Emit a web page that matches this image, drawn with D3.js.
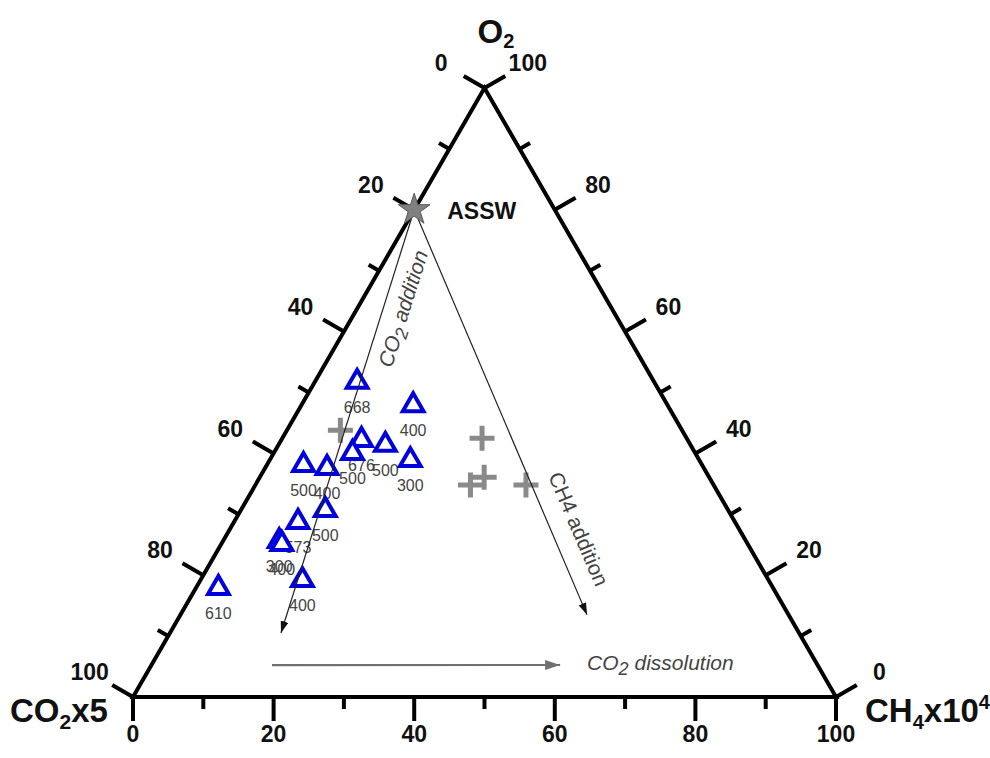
<!DOCTYPE html>
<html lang="en">
<head>
  <meta charset="UTF-8">
  <title>Ternary diagram CO2 / O2 / CH4</title>
  <script src="https://d3js.org/d3.v7.min.js"></script>
  <style>
    body {
      margin: 0;
      background: #fff;
      font-family: "Liberation Sans", Arial, sans-serif;
    }

    svg {
      display: block;
    }

    .edge {
      fill: none;
      stroke: #000;
      stroke-width: 4;
    }

    .tick {
      stroke: #000;
      stroke-width: 4;
    }

    .tick-label {
      font-size: 23px;
      font-weight: bold;
      fill: #111;
    }

    .corner-label {
      font-size: 33px;
      font-weight: bold;
      fill: #111;
    }

    .sample {
      fill: #fff;
      stroke: #0000dd;
      stroke-width: 4;
    }

    .sample-label {
      font-size: 16px;
      fill: #444;
    }

    .cross {
      fill: none;
      stroke: #8a8a8a;
      stroke-width: 5;
    }

    .process-line {
      stroke: #222;
      stroke-width: 1.2;
    }

    .process-text {
      font-size: 21px;
      fill: #444;
    }
  </style>
</head>
<body>
  <svg id="chart"></svg>
  <script>
    // axis ticks (percent along each side)
    const axisTicks = d3.range(0, 101, 10);
    const tickLabels = [0, 20, 40, 60, 80, 100];

    // blue triangles, [CO2x5, O2, CH4x10^4] in %, labelled with depth
    const sampleDepths = ["668", "400", "676", "500", "500", "300", "500", "400", "500", "573", "300", "400", "400", "610"];
    const sampleCO2 = [42.2, 36.2, 46.4, 48.8, 43.4, 41.1, 56.7, 53.6, 57.3, 62.1, 66.4, 66.2, 66.3, 78.9];
    const sampleO2 = [51.7, 47.9, 42.2, 40.1, 41.4, 38.9, 38.1, 37.6, 30.7, 28.7, 25.6, 25.1, 19.2, 17.9];
    const sampleCH4 = [6.0, 15.9, 11.4, 11.2, 15.2, 20.0, 5.2, 8.8, 12.0, 9.1, 8.0, 8.6, 14.5, 3.2];

    // grey crosses
    const crossCO2 = [48.6, 29.1, 34.6, 32.0, 26.7];
    const crossO2 = [43.8, 42.5, 34.8, 36.1, 34.8];
    const crossCH4 = [7.6, 28.4, 30.6, 31.9, 38.5];

    // ASSW end member
    const asswPoint = [20, 80, 0];

    // process arrows, endpoints as [CO2, O2, CH4]
    const arrowFrom = [[20, 80, 0], [20, 80, 0], [77.6, 5.25, 17.15]];
    const arrowTo = [[73.7, 10.5, 15.8], [28.7, 13.5, 57.9], [36.6, 5.25, 58.1]];

    const width = 990;
    const height = 758;

    const svg = d3.select("#chart")
      .attr("width", width)
      .attr("height", height);

    // CH4 + O2/2 runs along x, O2 runs up
    const xScale = d3.scaleLinear().domain([0, 100]).range([133, 836]);
    const yScale = d3.scaleLinear().domain([0, 100]).range([697, 88]);

    function project(co2, o2, ch4) {
      const s = co2 + o2 + ch4;
      const b = o2 * 100 / s;
      const c = ch4 * 100 / s;
      return [xScale(c + b / 2), yScale(b)];
    }

    const cos30 = Math.sqrt(3) / 2;

    // markers
    const defs = svg.append("defs");
    defs.append("marker")
      .attr("id", "head-black")
      .attr("viewBox", "0 0 12 8")
      .attr("refX", 12).attr("refY", 4)
      .attr("markerWidth", 12).attr("markerHeight", 8)
      .attr("markerUnits", "userSpaceOnUse")
      .attr("orient", "auto")
      .append("path").attr("d", "M0,0L12,4L0,8Z").attr("fill", "#111");
    defs.append("marker")
      .attr("id", "head-grey")
      .attr("viewBox", "0 0 15 10")
      .attr("refX", 15).attr("refY", 5)
      .attr("markerWidth", 15).attr("markerHeight", 10)
      .attr("markerUnits", "userSpaceOnUse")
      .attr("orient", "auto")
      .append("path").attr("d", "M0,0L15,5L0,10Z").attr("fill", "#707070");

    // triangle frame
    const corners = [project(100, 0, 0), project(0, 100, 0), project(0, 0, 100)];
    svg.append("path")
      .attr("class", "edge")
      .attr("d", d3.line()(corners) + "Z");

    // three sides: point on side for a value, and outward normal
    const sides = [
      { pos: v => project(100 - v, 0, v), normal: [0, 1], off: 37 },               // CH4 (bottom)
      { pos: v => project(v, 100 - v, 0), normal: [-cos30, -0.5], off: 50 },       // CO2 (left)
      { pos: v => project(0, v, 100 - v), normal: [cos30, -0.5], off: 50 }         // O2 (right)
    ];

    sides.forEach(side => {
      const g = svg.append("g");
      g.selectAll("line")
        .data(axisTicks)
        .join("line")
        .attr("class", "tick")
        .each(function (v) {
          const [x, y] = side.pos(v);
          const len = v % 20 === 0 ? 24 : 12;
          d3.select(this)
            .attr("x1", x).attr("y1", y)
            .attr("x2", x + side.normal[0] * len)
            .attr("y2", y + side.normal[1] * len);
        });
      g.selectAll("text")
        .data(tickLabels)
        .join("text")
        .attr("class", "tick-label")
        .attr("text-anchor", "middle")
        .attr("dy", "0.36em")
        .attr("x", v => side.pos(v)[0] + side.normal[0] * side.off)
        .attr("y", v => side.pos(v)[1] + side.normal[1] * side.off)
        .text(v => v);
    });

    // corner titles
    const o2Label = svg.append("text").attr("class", "corner-label")
      .attr("x", corners[1][0] - 7).attr("y", corners[1][1] - 45);
    o2Label.append("tspan").text("O");
    o2Label.append("tspan").attr("font-size", "20px").attr("dy", 5).text("2");

    const co2Label = svg.append("text").attr("class", "corner-label")
      .attr("font-size", "34px")
      .attr("x", corners[0][0] - 123).attr("y", corners[0][1] + 25);
    co2Label.append("tspan").text("CO");
    co2Label.append("tspan").attr("font-size", "21px").attr("dy", 7).text("2");
    co2Label.append("tspan").attr("dy", -7).text("x5");

    const ch4Label = svg.append("text").attr("class", "corner-label")
      .attr("x", corners[2][0] + 29).attr("y", corners[2][1] + 25);
    ch4Label.append("tspan").text("CH");
    ch4Label.append("tspan").attr("font-size", "20px").attr("dy", 7).text("4");
    ch4Label.append("tspan").attr("dy", -7).text("x10");
    ch4Label.append("tspan").attr("font-size", "20px").attr("dy", -13).text("4");

    // sample labels first (triangles overlap them)
    const samples = sampleDepths.map((d, i) => ({
      depth: d,
      p: project(sampleCO2[i], sampleO2[i], sampleCH4[i])
    }));

    svg.append("g")
      .selectAll("text")
      .data(samples)
      .join("text")
      .attr("class", "sample-label")
      .attr("text-anchor", "middle")
      .attr("x", d => d.p[0])
      .attr("y", d => d.p[1] + 31)
      .text(d => d.depth);

    // grey crosses
    const crosses = crossCO2.map((c, i) => project(c, crossO2[i], crossCH4[i]));
    const r = 12.5;
    svg.append("g")
      .selectAll("path")
      .data(crosses)
      .join("path")
      .attr("class", "cross")
      .attr("d", ([x, y]) => `M${x - r},${y}H${x + r}M${x},${y - r}V${y + r}`);

    // blue triangles
    svg.append("g")
      .selectAll("path")
      .data(samples)
      .join("path")
      .attr("class", "sample")
      .attr("transform", d => `translate(${d.p[0]},${d.p[1]})`)
      .attr("d", d3.symbol(d3.symbolTriangle, 185));

    // process arrows
    const arrows = arrowFrom.map((f, i) => ({ from: project(...f), to: project(...arrowTo[i]) }));

    svg.append("line")
      .attr("class", "process-line")
      .attr("x1", arrows[0].from[0]).attr("y1", arrows[0].from[1])
      .attr("x2", arrows[0].to[0]).attr("y2", arrows[0].to[1])
      .attr("marker-end", "url(#head-black)");
    svg.append("line")
      .attr("class", "process-line")
      .attr("x1", arrows[1].from[0]).attr("y1", arrows[1].from[1])
      .attr("x2", arrows[1].to[0]).attr("y2", arrows[1].to[1])
      .attr("marker-end", "url(#head-black)");
    svg.append("line")
      .attr("stroke", "#707070")
      .attr("stroke-width", 2.2)
      .attr("x1", arrows[2].from[0]).attr("y1", arrows[2].from[1])
      .attr("x2", arrows[2].to[0]).attr("y2", arrows[2].to[1])
      .attr("marker-end", "url(#head-grey)");

    // arrow captions placed along their lines
    function along(a, t, off) {
      const dx = a.to[0] - a.from[0];
      const dy = a.to[1] - a.from[1];
      const len = Math.hypot(dx, dy);
      const ux = dx / len, uy = dy / len;
      return {
        x: a.from[0] + dx * t + off * uy,
        y: a.from[1] + dy * t - off * ux,
        angle: Math.atan2(dy, dx) * 180 / Math.PI
      };
    }

    const p0 = along(arrows[0], 0.22, 20);
    const t0 = svg.append("text")
      .attr("class", "process-text")
      .attr("font-style", "italic")
      .attr("text-anchor", "middle")
      .attr("dy", "0.3em")
      .attr("transform", `translate(${p0.x},${p0.y}) rotate(${p0.angle + 180})`);
    t0.append("tspan").text("CO");
    t0.append("tspan").attr("font-size", "18px").attr("dy", 5).text("2");
    t0.append("tspan").attr("dy", -5).text(" addition");

    const p1 = along(arrows[1], 0.813, 25);
    svg.append("text")
      .attr("class", "process-text")
      .attr("text-anchor", "middle")
      .attr("dy", "0.3em")
      .attr("transform", `translate(${p1.x},${p1.y}) rotate(${p1.angle})`)
      .text("CH4 addition");

    const t2 = svg.append("text")
      .attr("class", "process-text")
      .attr("font-style", "italic")
      .attr("x", arrows[2].to[0] + 27)
      .attr("y", arrows[2].to[1] + 5);
    t2.append("tspan").text("CO");
    t2.append("tspan").attr("font-size", "18px").attr("dy", 5).text("2");
    t2.append("tspan").attr("dy", -5).text(" dissolution");

    // ASSW star
    const assw = project(...asswPoint);
    svg.append("path")
      .attr("transform", `translate(${assw[0]},${assw[1]})`)
      .attr("d", d3.symbol(d3.symbolStar, 310))
      .attr("fill", "#808080")
      .attr("stroke", "#5a5a5a")
      .attr("stroke-width", 1);
    svg.append("text")
      .attr("x", assw[0] + 33)
      .attr("y", assw[1] + 9)
      .attr("font-size", "23px")
      .attr("font-weight", "bold")
      .attr("fill", "#111")
      .text("ASSW");
  </script>
</body>
</html>
